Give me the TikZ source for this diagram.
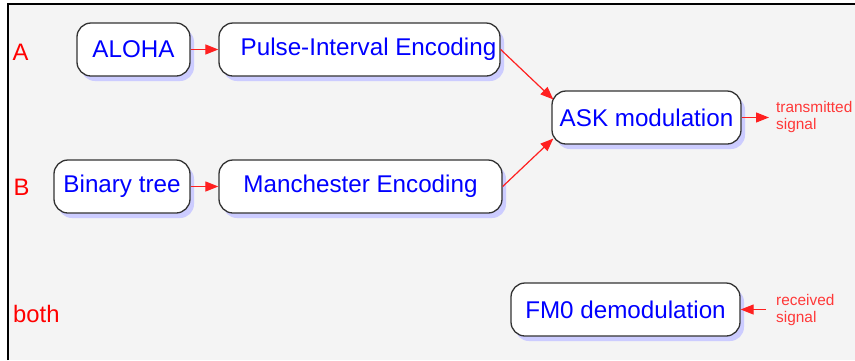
\documentclass[tikz,border=0pt]{standalone}
\usepackage{fontspec}
\setmainfont{Liberation Sans}
\usetikzlibrary{shadows,arrows.meta,calc}
\definecolor{bg}{HTML}{F4F4F4}
\definecolor{shadowc}{RGB}{204,204,255}
\definecolor{boxline}{HTML}{333333}
\definecolor{txtblue}{HTML}{0000FF}
\definecolor{arr}{HTML}{FF2020}
\definecolor{notec}{HTML}{FF3838}
\begin{document}
\begin{tikzpicture}[x=1pt,y=-1pt,
  blk/.style={draw=boxline, line width=1.3pt, fill=white, rounded corners=14pt,
    inner sep=0pt, minimum height=53pt, text=txtblue,
    font=\fontsize{24.2}{28}\selectfont,
    drop shadow={shadow xshift=4pt, shadow yshift=-5pt, fill=shadowc, opacity=1}},
  lab/.style={text=red, font=\fontsize{23.8}{28}\selectfont, anchor=base west, inner sep=0pt},
  note/.style={text=notec, font=\fontsize{15.4}{16.5}\selectfont, align=left, anchor=west, inner sep=0pt},
  link/.style={draw=arr, line width=1.2pt, -{Triangle[length=13pt,width=10pt]}}]
\useasboundingbox (0,0) rectangle (855,360);
\fill[bg] (8,4) rectangle (855,360);
\draw[line width=1.6pt] (8,360) -- (8,4) -- (855,4);

\node[lab] (la) at (12.5,60) {A};
\node[lab] (lb) at (13.5,195) {B};
\node[lab] (lboth) at (13,322) {both};

\node[blk, minimum width=113pt] (aloha) at (133.5,49.5) {ALOHA};
\node[blk, minimum width=281pt] (pie) at (359.5,49.5) {\hspace*{18pt}Pulse-Interval Encoding};
\node[blk, minimum width=189pt] (ask) at (646.5,117.5) {ASK modulation};
\node[blk, minimum width=136pt] (bin) at (122,186.5) {Binary tree};
\node[blk, minimum width=283pt] (man) at (360.5,186.5) {Manchester Encoding};
\node[blk, minimum width=229pt] (fm0) at (625.5,309.5) {FM0 demodulation};

\node[note] (tx) at (776,117) {transmitted\\signal};
\node[note] (rx) at (776,310) {received\\signal};

\draw[link] (aloha) -- (pie);
\draw[link] (bin) -- (man);
\draw[link] (pie.east) -- ($(ask.west)+(2,-18)$);
\draw[link] (man.east) -- ($(ask.west)+(2,21)$);
\draw[link, shorten >=7pt] (ask.east) -- (ask.east -| tx.west);
\draw[link, shorten <=10pt] (fm0.east -| rx.west) -- (fm0.east);
\end{tikzpicture}
\end{document}
